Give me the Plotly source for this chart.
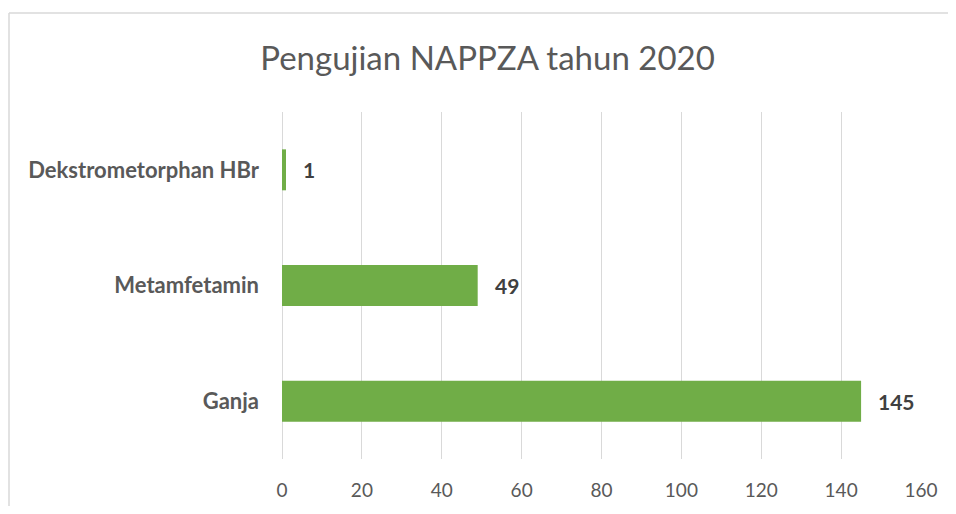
import plotly.graph_objects as go

categories = ["Ganja", "Metamfetamin", "Dekstrometorphan HBr"]
values = [145, 49, 1]
x_ticks = [0, 20, 40, 60, 80, 100, 120, 140, 160]
title_text = "Pengujian NAPPZA tahun 2020"

FONT = "Lato, Calibri, Carlito, sans-serif"
GREEN = "#70AD47"

# page body has an 8px margin; figure is 940x498 so the page does not scroll
W, H = 940, 498
L, R, T, B = 274, 27, 104, 47
PW = W - L - R
PH = H - T - B

fig = go.Figure()
fig.add_trace(go.Bar(
    y=categories, x=values, orientation="h",
    marker=dict(color=GREEN, line=dict(width=0)),
    width=0.354, hoverinfo="x+y",
))

for c, v in zip(categories, values):
    fig.add_annotation(
        x=v, y=c, xref="x", yref="y", text=f"<b>{v}</b>",
        showarrow=False, xanchor="left", yanchor="middle", xshift=15,
        font=dict(family=FONT, size=21, color="#404040"),
    )

bx0 = (1 - L) / PW
by1 = 1 + (T - 5) / PH
border = dict(color="#D9D9D9", width=1.5)

fig.update_layout(
    width=W, height=H,
    margin=dict(l=L, r=R, t=T, b=B, autoexpand=False),
    paper_bgcolor="white", plot_bgcolor="white",
    showlegend=False,
    title=dict(text=title_text, x=479.5 / W, xanchor="center",
               y=1 - 50 / H, yanchor="middle",
               font=dict(family=FONT, size=33, color="#595959")),
    xaxis=dict(range=[0, 160], tickvals=x_ticks, showgrid=True,
               gridcolor="#D9D9D9", gridwidth=1, zeroline=True,
               zerolinecolor="#D9D9D9", zerolinewidth=1, showline=False,
               ticks="", ticklabelstandoff=18, automargin=False,
               tickfont=dict(family=FONT, size=19, color="#595959")),
    yaxis=dict(categoryorder="array", categoryarray=categories,
               showgrid=False, zeroline=False, showline=False, ticks="",
               ticklabelstandoff=22, automargin=False,
               tickfont=dict(family=FONT, size=22, color="#595959"),
               tickprefix="<b>", ticksuffix="</b>"),
    shapes=[
        dict(type="line", xref="paper", yref="paper",
             x0=bx0, x1=bx0, y0=-0.4, y1=by1, line=border, layer="below"),
        dict(type="line", xref="paper", yref="paper",
             x0=bx0, x1=1.3, y0=by1, y1=by1, line=border, layer="below"),
    ],
)

fig.write_html("out.html")
